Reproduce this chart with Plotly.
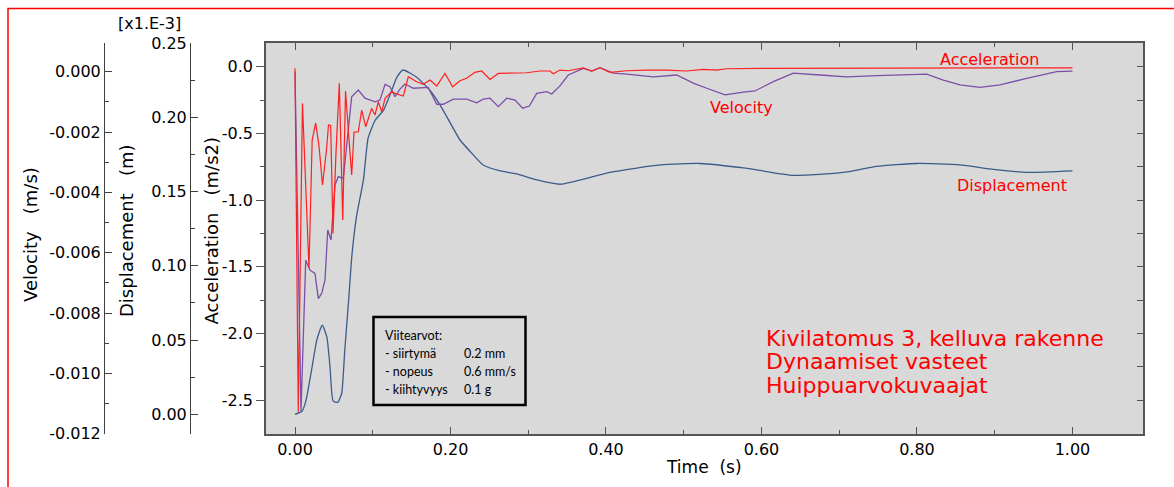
import plotly.graph_objects as go

# ---------------- data ----------------
disp_t = [0.000, 0.009, 0.014, 0.022, 0.028, 0.035, 0.041, 0.045, 0.049, 0.055, 0.060, 0.064,
          0.069, 0.073, 0.079, 0.088, 0.094, 0.103, 0.114, 0.122, 0.131, 0.139, 0.157, 0.174,
          0.187, 0.199, 0.212, 0.229, 0.242, 0.264, 0.285, 0.311, 0.341, 0.405, 0.470, 0.521,
          0.577, 0.641, 0.705, 0.748, 0.800, 0.855, 0.898, 0.941, 1.000]
disp_val = [0.000, 0.002, 0.009, 0.032, 0.050, 0.060, 0.052, 0.032, 0.009, 0.008, 0.014, 0.043,
            0.077, 0.106, 0.133, 0.158, 0.186, 0.198, 0.205, 0.215, 0.227, 0.232, 0.227, 0.218,
            0.208, 0.197, 0.185, 0.175, 0.168, 0.164, 0.162, 0.158, 0.155, 0.163, 0.168, 0.169,
            0.166, 0.161, 0.163, 0.167, 0.169, 0.168, 0.165, 0.163, 0.164]

vel_t = [0.000, 0.0077, 0.0138, 0.0193, 0.0257, 0.0300, 0.0343, 0.0386, 0.0421, 0.0463, 0.0514,
         0.0557, 0.0621, 0.0729, 0.0814, 0.0900, 0.1029, 0.1093, 0.1158, 0.1222, 0.1286, 0.1350,
         0.1415, 0.1522, 0.1714, 0.1823, 0.1907, 0.2036, 0.2208, 0.2337, 0.2422, 0.2508, 0.2615,
         0.2723, 0.2830, 0.2929, 0.3014, 0.3109, 0.3237, 0.3302, 0.3408, 0.3515, 0.3708, 0.3816,
         0.3923, 0.4094, 0.4266, 0.4609, 0.4909, 0.5123, 0.5295, 0.5531, 0.5766, 0.5916, 0.6152,
         0.6409, 0.6752, 0.7096, 0.7482, 0.8125, 0.8338, 0.8553, 0.8810, 0.9068, 0.9411, 0.9797,
         1.000]
vel_val = [0.0, -0.01125, -0.00625, -0.00658, -0.00669, -0.00752, -0.00735, -0.00691, -0.00525,
           -0.00558, -0.00376, -0.00348, -0.00354, -0.00083, -0.00061, -0.00088, -0.00100,
           -0.00094, -0.00042, -0.00050, -0.00083, -0.00058, -0.00041, -0.00055, -0.00052,
           -0.00108, -0.00108, -0.00091, -0.00091, -0.00103, -0.00091, -0.00088, -0.00116,
           -0.00088, -0.00094, -0.00121, -0.00114, -0.00072, -0.00066, -0.00074, -0.00047,
           -0.00011, 0.00011, 0.00002, 0.00013, -0.00005, -0.00008, -0.00017, -0.00011,
           -0.00038, -0.00055, -0.00077, -0.00068, -0.00064, -0.00033, -0.00005, -0.00011,
           -0.00017, -0.00013, -0.00008, -0.00028, -0.00044, -0.00052, -0.00044, -0.00022,
           0.0, 0.00002]

acc_t = [0.000, 0.0042, 0.0096, 0.0180, 0.0221, 0.0266, 0.0309, 0.0354, 0.0405, 0.0431, 0.0459,
         0.0489, 0.0527, 0.0570, 0.0614, 0.0650, 0.0695, 0.0729, 0.0759, 0.0814, 0.0858, 0.0909,
         0.0986, 0.1029, 0.1071, 0.1115, 0.1158, 0.1244, 0.1286, 0.1350, 0.1393, 0.1457, 0.1565,
         0.1650, 0.1736, 0.1823, 0.1929, 0.2028, 0.2122, 0.2208, 0.2315, 0.2401, 0.2508, 0.2615,
         0.2808, 0.2980, 0.3151, 0.3280, 0.3322, 0.3408, 0.3515, 0.3708, 0.3816, 0.3923, 0.4051,
         0.4266, 0.4524, 0.4781, 0.5038, 0.5252, 0.5424, 0.5553, 0.5981, 0.6839, 0.7695, 0.8553,
         1.000]
acc_val = [-0.012, -2.588, -0.275, -1.512, -0.550, -0.422, -0.595, -0.887, -0.625, -0.437, -0.440,
           -1.250, -0.650, -0.125, -1.150, -0.182, -0.550, -0.812, -0.490, -0.488, -0.325, -0.450,
           -0.312, -0.362, -0.263, -0.338, -0.237, -0.188, -0.200, -0.212, -0.220, -0.075, -0.113,
           -0.132, -0.100, -0.145, -0.050, -0.150, -0.105, -0.087, -0.042, -0.032, -0.095, -0.050,
           -0.050, -0.045, -0.032, -0.032, -0.053, -0.025, -0.030, -0.008, -0.032, -0.008, -0.042,
           -0.030, -0.025, -0.025, -0.032, -0.020, -0.025, -0.015, -0.012, -0.010, -0.012, -0.008,
           -0.008]

time_ticks = [0.0, 0.2, 0.4, 0.6, 0.8, 1.0]
time_labels = ["0.00", "0.20", "0.40", "0.60", "0.80", "1.00"]
time_minor = [0.1, 0.3, 0.5, 0.7, 0.9]
acc_ticks = [0.0, -0.5, -1.0, -1.5, -2.0, -2.5]
acc_labels = ["0.0", "-0.5", "-1.0", "-1.5", "-2.0", "-2.5"]
acc_minor = [0.0, -0.25, -0.5, -0.75, -1.0, -1.25, -1.5, -1.75, -2.0, -2.25, -2.5]
disp_ticks = [0.00, 0.05, 0.10, 0.15, 0.20, 0.25]
disp_labels = ["0.00", "0.05", "0.10", "0.15", "0.20", "0.25"]
disp_minor = [0.025, 0.075, 0.125, 0.175, 0.225]
vel_ticks = [0.0, -0.002, -0.004, -0.006, -0.008, -0.010, -0.012]
vel_labels = ["0.000", "-0.002", "-0.004", "-0.006", "-0.008", "-0.010", "-0.012"]
vel_minor = [-0.001, -0.003, -0.005, -0.007, -0.009, -0.011]

box_rows = ["Viitearvot:", "- siirtymä", "- nopeus", "- kiihtyvyys"]
box_vals = ["", "0.2 mm", "0.6 mm/s", "0.1 g"]
title_lines = ["Kivilatomus 3, kelluva rakenne", "Dynaamiset vasteet", "Huippuarvokuvaajat"]

# ---------------- layout helpers ----------------
W, H = 1174, 487
L, R, T, B = 0, 31, 43, 53
PW, PH = W - L - R, H - T - B


def px(x):
    return (x - L) / PW


def py(y):
    return (H - B - y) / PH


FONT = "DejaVu Sans"
FRAME = "#555555"
AXC = "#404040"
RED = "#ff2020"

acc_range = [-2.755, 0.178]
disp_range = [-0.0133, 0.2502]
vel_range = [-0.01201, 0.00095]
tickfont = dict(family=FONT, size=16, color="black")

fig = go.Figure()
# empty trace so that the labelled acceleration axis (base axis) gets drawn
fig.add_trace(go.Scatter(x=[], y=[], xaxis="x", yaxis="y", mode="lines",
                         showlegend=False, hoverinfo="skip"))
fig.add_trace(go.Scatter(x=disp_t, y=disp_val, xaxis="x", yaxis="y2", mode="lines",
                         line=dict(color="#3b5b8a", width=1.3, shape="spline", smoothing=0.5),
                         showlegend=False, hoverinfo="skip"))
fig.add_trace(go.Scatter(x=vel_t, y=vel_val, xaxis="x", yaxis="y3", mode="lines",
                         line=dict(color="#7d4ea8", width=1.3), showlegend=False, hoverinfo="skip"))
fig.add_trace(go.Scatter(x=acc_t, y=acc_val, xaxis="x", yaxis="y4", mode="lines",
                         line=dict(color=RED, width=1.2), showlegend=False, hoverinfo="skip"))


def free_axis(rng, pos, tv, tt, mv):
    return dict(range=rng, anchor="free", position=pos, overlaying="y", side="left",
                tickmode="array", tickvals=tv, ticktext=tt,
                ticks="inside", ticklen=7, tickcolor=AXC,
                minor=dict(tickmode="array", tickvals=mv, ticks="inside", ticklen=4,
                           tickcolor=AXC, showgrid=False),
                showline=True, linecolor=AXC, linewidth=1,
                showgrid=False, zeroline=False, tickfont=tickfont)


fig.update_layout(
    width=W, height=H, autosize=False,
    margin=dict(l=L, r=R, t=T, b=B, pad=0),
    paper_bgcolor="white", plot_bgcolor="rgba(0,0,0,0)",
    font=dict(family=FONT, size=16, color="black"),
    xaxis=dict(domain=[px(266), 1.0], range=[-0.0373, 1.0907], anchor="y",
               tickmode="array", tickvals=time_ticks, ticktext=time_labels,
               ticks="inside", ticklen=7, tickcolor=FRAME, tickwidth=1,
               minor=dict(tickmode="array", tickvals=time_minor, ticks="inside", ticklen=4,
                          tickcolor=FRAME, showgrid=False),
               showline=True, linecolor=FRAME, linewidth=1.5, mirror="ticks",
               showgrid=False, zeroline=False, tickfont=tickfont),
    yaxis=dict(range=acc_range, anchor="x", side="left",
               tickmode="array", tickvals=acc_ticks, ticktext=acc_labels,
               ticks="outside", ticklen=8, tickcolor=FRAME,
               minor=dict(tickmode="array", tickvals=acc_minor, ticks="outside", ticklen=4,
                          tickcolor=FRAME, showgrid=False),
               showline=True, linecolor=FRAME, linewidth=1.5,
               showgrid=False, zeroline=False, tickfont=tickfont),
    yaxis2=free_axis(disp_range, px(190), disp_ticks, disp_labels, disp_minor),
    yaxis3=free_axis(vel_range, px(104), vel_ticks, vel_labels, vel_minor),
    yaxis4=dict(range=acc_range, anchor="x", overlaying="y", side="right",
                tickmode="array", tickvals=acc_minor, showticklabels=False,
                ticks="inside", ticklen=6, tickcolor=FRAME,
                showline=True, linecolor=FRAME, linewidth=1.5,
                showgrid=False, zeroline=False),
)

ann = []


def add_text(text, x, y, size=16, color="black", xanchor="center", angle=0, family=FONT):
    ann.append(dict(text=text, x=px(x), y=py(y), xref="paper", yref="paper",
                    xanchor=xanchor, yanchor="middle", showarrow=False, textangle=angle,
                    font=dict(family=family, size=size, color=color)))


GAP = "\u00a0\u00a0 "
# axis titles
add_text("Time\u00a0 (s)", 704, 467, size=17)
add_text("Velocity" + GAP + "(m/s)", 30, 235, size=18, angle=-90)
add_text("Displacement" + GAP + "(m)", 127, 231, size=18, angle=-90)
add_text("Acceleration" + GAP + "(m/s2)", 211.5, 231, size=18, angle=-90)
add_text("[x1.E-3]", 149, 24)
# curve labels
add_text("Acceleration", 989, 59, color="#ff0000")
add_text("Velocity", 742, 108, color="#ff0000")
add_text("Displacement", 1012, 185, color="#ff0000")
# title block
for i, line in enumerate(title_lines):
    add_text(line, 764, 338 + 23.5 * i, size=22, color="#ff0000", xanchor="left")
# reference value box
row_y = [335, 353, 371.5, 389.5]
for i, (lbl, val) in enumerate(zip(box_rows, box_vals)):
    add_text(lbl, 382.5, row_y[i], size=12.5, xanchor="left", family="Lato")
    if val:
        add_text(val, 461.5, row_y[i], size=12.5, xanchor="left", family="Lato")

fig.update_layout(annotations=ann)

fig.update_layout(shapes=[
    # grey plot background
    dict(type="rect", xref="paper", yref="paper", x0=px(266), x1=1.0, y0=0.0, y1=1.0,
         line=dict(width=0), fillcolor="#d9d9d9", layer="below"),
    dict(type="rect", xref="paper", yref="paper", x0=px(373.5), x1=px(525.5),
         y0=py(405), y1=py(317), line=dict(color="black", width=2.5), fillcolor="rgba(0,0,0,0)"),
    dict(type="rect", xref="paper", yref="paper", x0=px(8), x1=px(1200),
         y0=py(520), y1=py(8.5), line=dict(color="#ff0000", width=1.5), fillcolor="rgba(0,0,0,0)"),
])

fig.write_html("out.html")
